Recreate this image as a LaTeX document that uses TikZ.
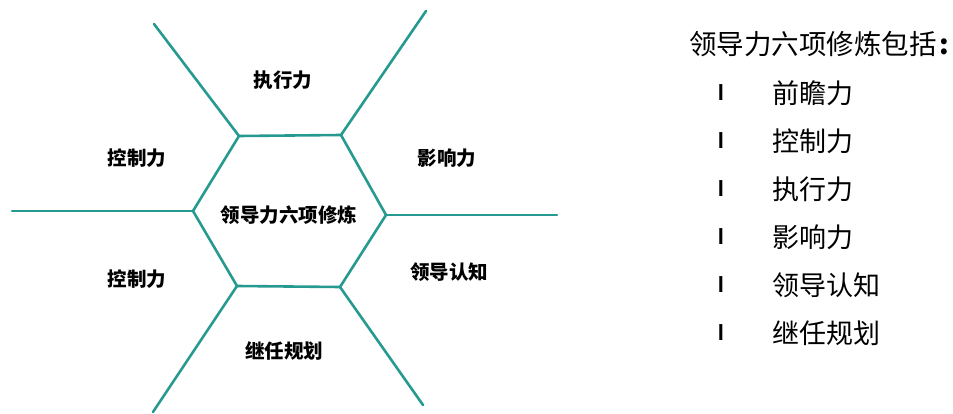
\documentclass[tikz,border=0pt]{standalone}
\usepackage{fontspec}
\newfontfamily\cjk{Noto Sans CJK SC}
\newfontfamily\latin{Liberation Sans}
\definecolor{teal}{RGB}{38,154,145}
\tikzset{
  spoke/.style={draw=teal, line width=2.6pt, line cap=round, line join=round},
  hexlabel/.style={font=\cjk\bfseries\fontsize{19.5}{20}\selectfont, inner sep=0pt, text=black},
  headtext/.style={font=\cjk\fontsize{27.5}{30}\selectfont, inner sep=0pt, anchor=west, text=black},
  itemtext/.style={font=\cjk\fontsize{27}{29}\selectfont, inner sep=0pt, anchor=west, text=black},
  bullet/.style={font=\latin\bfseries\fontsize{22}{23}\selectfont, inner sep=0pt, text=black}
}
\begin{document}
\begin{tikzpicture}[x=1pt,y=-1pt]
\useasboundingbox (0,0) rectangle (953,414);
% hexagon vertices
\coordinate (tl) at (239,136);
\coordinate (tr) at (341,135);
\coordinate (r) at (386,215);
\coordinate (br) at (340,287);
\coordinate (bl) at (237,286);
\coordinate (l) at (193,211);
% spoke ends
\coordinate (etl) at (154,24);
\coordinate (etr) at (426,11);
\coordinate (el) at (12,211);
\coordinate (er) at (557,215);
\coordinate (ebl) at (153,412);
\coordinate (ebr) at (423,405);
\draw[spoke] (tl) -- (tr) -- (r) -- (br) -- (bl) -- (l) -- cycle;
\draw[spoke] (tl) -- (etl);
\draw[spoke] (tr) -- (etr);
\draw[spoke] (l) -- (el);
\draw[spoke] (r) -- (er);
\draw[spoke] (bl) -- (ebl);
\draw[spoke] (br) -- (ebr);
% labels
\node[hexlabel] (center) at (289,215) {领导力六项修炼};
\node[hexlabel] (zx) at (283,80) {执行力};
\node[hexlabel] (kz1) at (137,158) {控制力};
\node[hexlabel] (yx) at (447,158) {影响力};
\node[hexlabel] (kz2) at (137,279) {控制力};
\node[hexlabel] (ld) at (449,272) {领导认知};
\node[hexlabel] (jr) at (284,351) {继任规划};
% right list
\node[headtext] (head) at (689,44) {领导力六项修炼包括\kern0.1em{\bfseries:}};
\foreach \t [count=\i from 0] in {前瞻力,控制力,执行力,影响力,领导认知,继任规划}{
  \node[bullet] (b\i) at (721,{93+48*\i}) {l};
  \node[itemtext] (it\i) at (772,{93+48*\i}) {\t};
}
\end{tikzpicture}
\end{document}
